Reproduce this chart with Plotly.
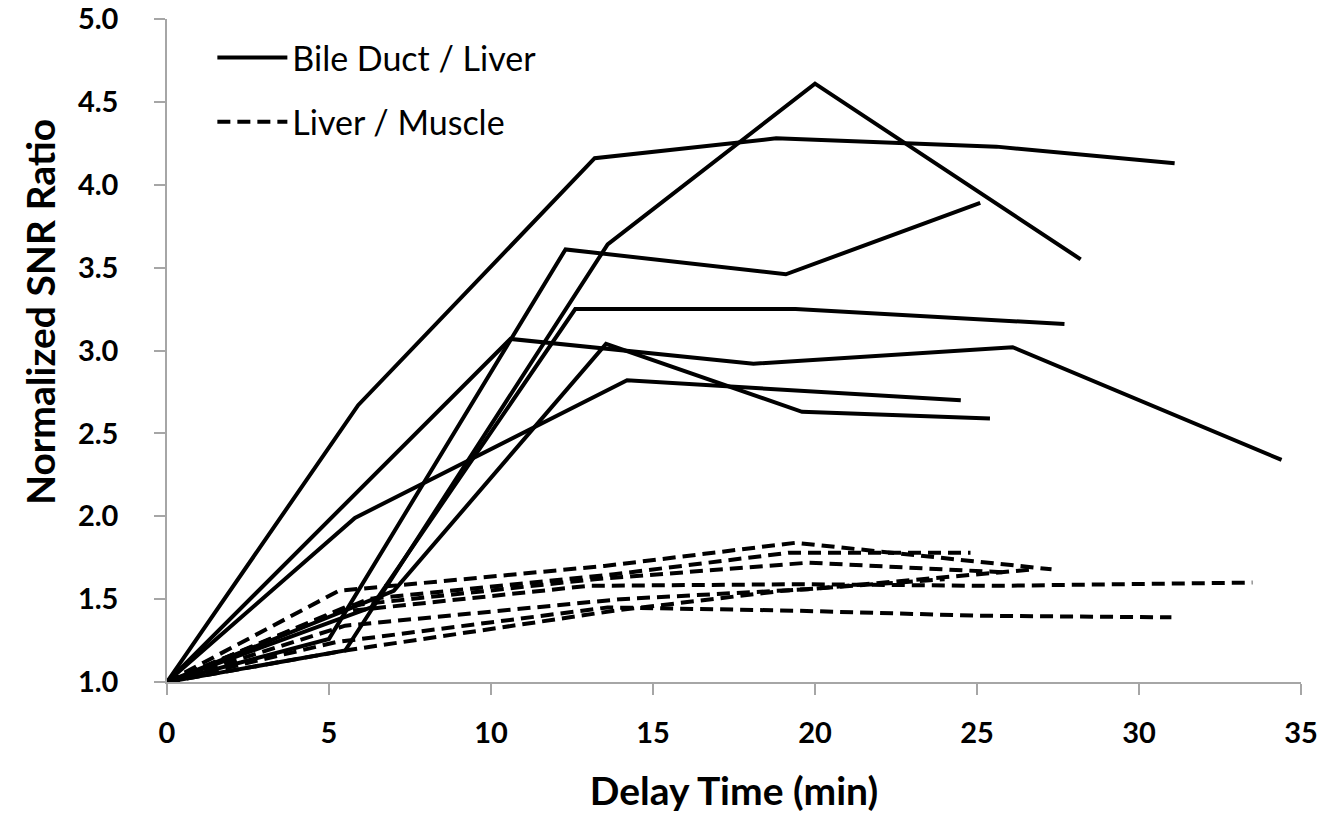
import plotly.graph_objects as go

# Bile Duct / Liver (solid)
bd_x = [
    [0, 5.9, 13.2, 18.8, 25.6, 31.1],
    [0, 5.5, 13.6, 20.0, 28.2],
    [0, 5.0, 12.3, 19.1, 25.1],
    [0, 6.3, 12.6, 19.4, 27.7],
    [0, 10.6, 18.1, 26.1, 34.4],
    [0, 7.0, 13.55, 19.6, 25.4],
    [0, 5.8, 14.2, 24.5],
]
bd_y = [
    [1.0, 2.67, 4.16, 4.28, 4.23, 4.13],
    [1.0, 1.19, 3.64, 4.61, 3.55],
    [1.0, 1.26, 3.61, 3.46, 3.89],
    [1.0, 1.45, 3.25, 3.25, 3.16],
    [1.0, 3.07, 2.92, 3.02, 2.34],
    [1.0, 1.55, 3.04, 2.63, 2.59],
    [1.0, 1.99, 2.82, 2.70],
]

# Liver / Muscle (dashed)
lm_x = [
    [0, 5.3, 13.5, 19.4, 27.3],
    [0, 6.2, 13.8, 19.2, 24.8],
    [0, 5.6, 13.2, 19.8, 26.0],
    [0, 5.2, 13.0, 19.5, 25.5, 33.5],
    [0, 5.5, 14.0, 19.8, 26.8],
    [0, 5.2, 13.6, 19.5, 25.0, 31.0],
    [0, 5.5, 13.8, 19.0, 24.0],
]
lm_y = [
    [1.0, 1.55, 1.70, 1.84, 1.68],
    [1.0, 1.50, 1.65, 1.78, 1.78],
    [1.0, 1.46, 1.62, 1.72, 1.66],
    [1.0, 1.42, 1.58, 1.59, 1.58, 1.60],
    [1.0, 1.34, 1.50, 1.56, 1.68],
    [1.0, 1.24, 1.45, 1.43, 1.40, 1.39],
    [1.0, 1.19, 1.43, 1.55, 1.62],
]

x_ticks = [0, 5, 10, 15, 20, 25, 30, 35]
y_ticks = [1.0, 1.5, 2.0, 2.5, 3.0, 3.5, 4.0, 4.5, 5.0]

FONT = "Lato, Open Sans, sans-serif"

fig = go.Figure()
for i, (xs, ys) in enumerate(zip(bd_x, bd_y)):
    fig.add_trace(go.Scatter(
        x=xs, y=ys, mode="lines", name="Bile Duct / Liver",
        line=dict(color="black", width=4),
        legendgroup="bd", showlegend=(i == 0)))
for i, (xs, ys) in enumerate(zip(lm_x, lm_y)):
    fig.add_trace(go.Scatter(
        x=xs, y=ys, mode="lines", name="Liver / Muscle",
        line=dict(color="black", width=4, dash="13px,7px"),
        legendgroup="lm", showlegend=(i == 0)))

axis_common = dict(
    showgrid=False, zeroline=False, showline=True, automargin=False,
    linecolor="#a6a6a6", linewidth=1.5,
    ticks="outside", tickcolor="#a6a6a6", ticklen=11, tickwidth=1.5,
    ticklabeloverflow="allow",
    tickfont=dict(family=FONT, size=29, color="black", weight="bold"),
)

fig.update_layout(
    width=1330, height=805,
    margin=dict(l=159, r=37, t=11, b=131),
    paper_bgcolor="white", plot_bgcolor="white",
    xaxis=dict(range=[0, 35], tickvals=x_ticks, ticktext=[str(v) for v in x_ticks],
               ticklabelstandoff=13,
               title=dict(text="Delay Time (min)", standoff=30,
                          font=dict(family=FONT, size=39, color="black", weight="bold")),
               **axis_common),
    yaxis=dict(range=[1, 5], tickvals=y_ticks, ticktext=[f"{v:.1f}" for v in y_ticks],
               ticklabelstandoff=30,
               **axis_common),
    legend=dict(x=0.04, y=0.985, xanchor="left", yanchor="top",
                font=dict(family=FONT, size=34, color="black"),
                itemwidth=70, tracegroupgap=17, bgcolor="rgba(0,0,0,0)"),
    showlegend=True,
    annotations=[dict(
        text="Normalized SNR Ratio", textangle=-90,
        xref="paper", yref="paper", x=-0.112, y=0.558,
        xanchor="center", yanchor="middle", showarrow=False,
        font=dict(family=FONT, size=39, color="black", weight="bold"),
    )],
)

fig.write_html("out.html")
